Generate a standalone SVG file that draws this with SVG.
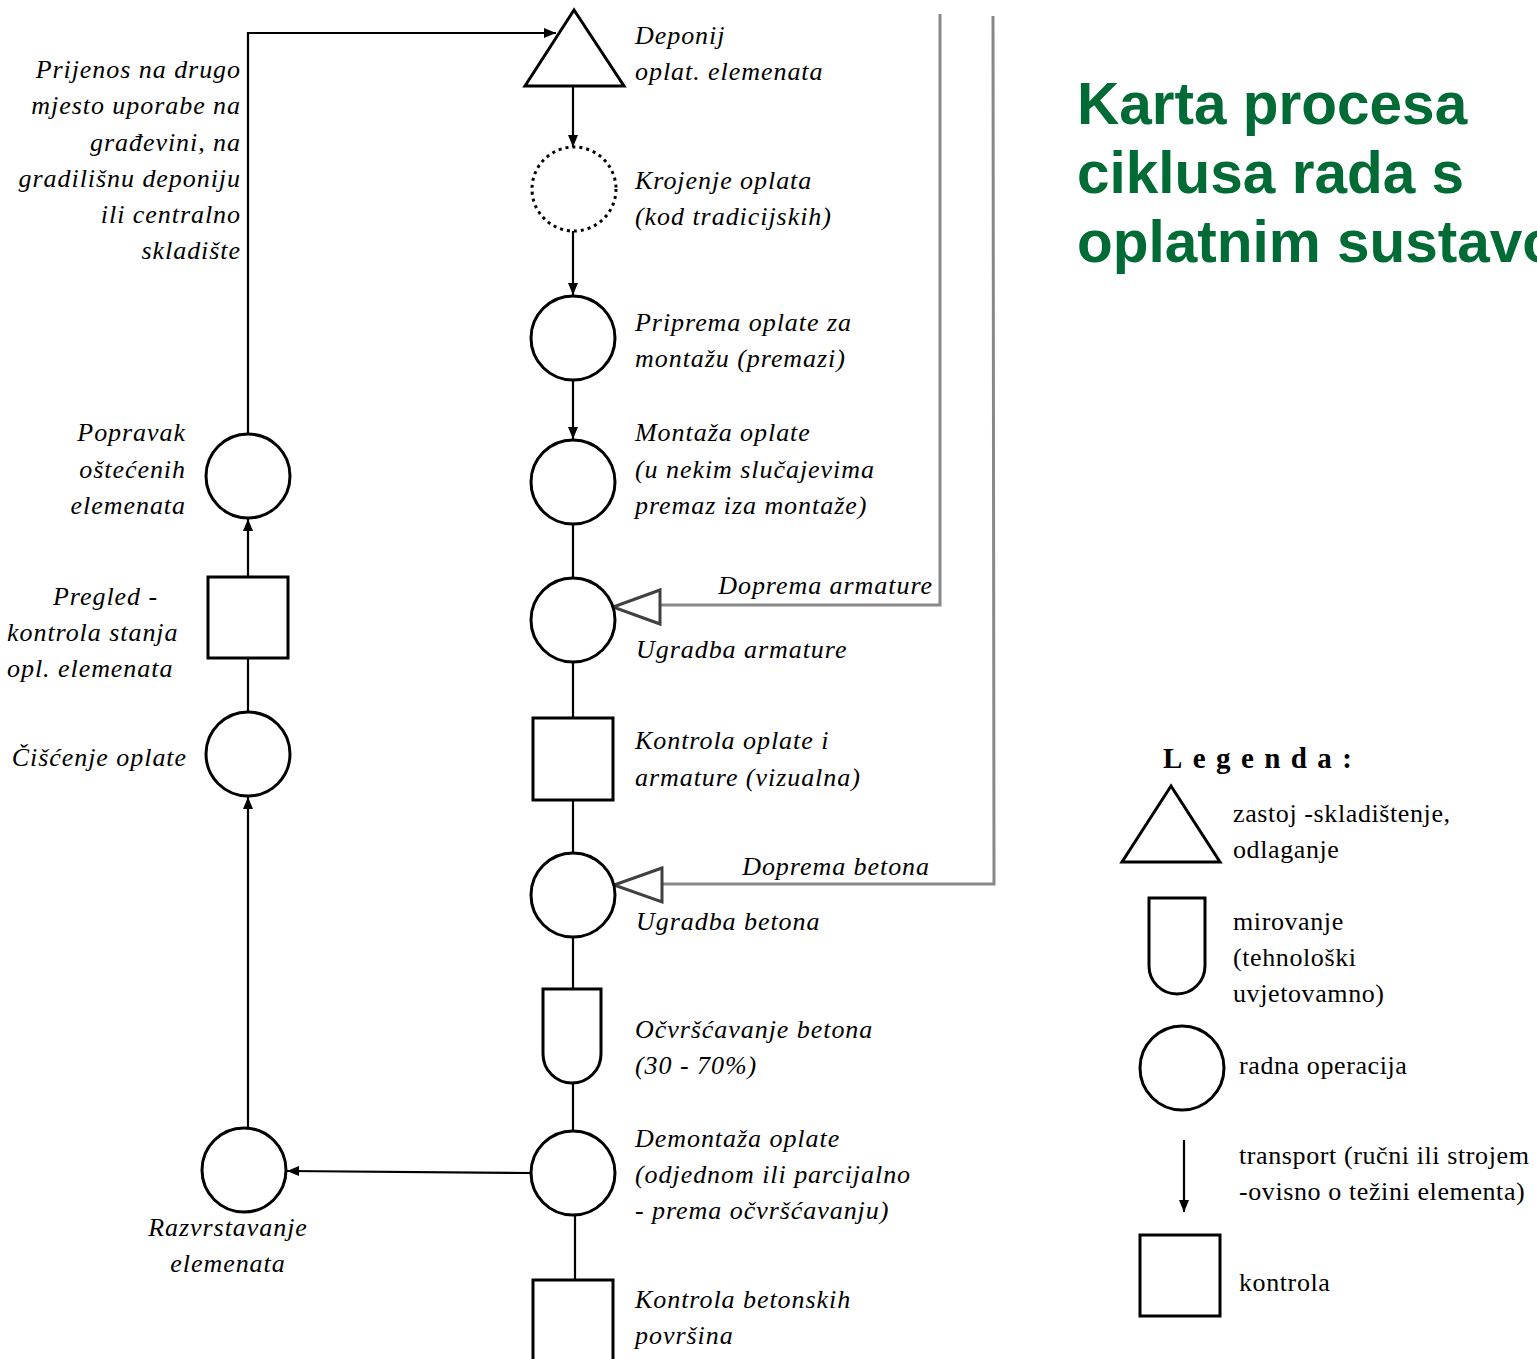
<svg xmlns="http://www.w3.org/2000/svg" width="1537" height="1359" viewBox="0 0 1537 1359">
<style>
.sh{fill:#fff;stroke:#000;stroke-width:3}
.ln{fill:none;stroke:#000;stroke-width:2.2}
.gr{fill:none;stroke:#888;stroke-width:3}
.ha{fill:#fff;stroke:#404040;stroke-width:3}
.t{font-family:"Liberation Serif",serif;font-style:italic;font-size:26px;letter-spacing:0.95px;fill:#000}
.tr{text-anchor:end}
.tm{text-anchor:middle}
.lg{font-family:"Liberation Serif",serif;font-size:26px;letter-spacing:0.6px;fill:#000}
.title{font-family:"Liberation Sans",Arial,sans-serif;font-weight:bold;font-size:58.5px;fill:#006B35}
</style>
<defs>
<marker id="ar" markerUnits="userSpaceOnUse" markerWidth="12" markerHeight="12" viewBox="0 0 12 12" refX="12" refY="6" orient="auto">
<path d="M0,1 L12,6 L0,11 z" fill="#000"/>
</marker>
</defs>
<rect width="1537" height="1359" fill="#fff"/>

<g id="title">
<text class="title" x="1077" y="124">Karta procesa</text>
<text class="title" x="1077" y="193">ciklusa rada s</text>
<text class="title" x="1077" y="262">oplatnim sustavom</text>
</g>

<g id="connectors">
<polyline class="ln" points="248,434 248,33 556,33" marker-end="url(#ar)"/>
<line class="ln" x1="573" y1="86" x2="573" y2="147" marker-end="url(#ar)"/>
<line class="ln" x1="573" y1="231" x2="573" y2="295" marker-end="url(#ar)"/>
<line class="ln" x1="573" y1="380" x2="573" y2="439" marker-end="url(#ar)"/>
<line class="ln" x1="573" y1="524" x2="573" y2="578"/>
<line class="ln" x1="573" y1="662" x2="573" y2="718"/>
<line class="ln" x1="573" y1="800" x2="573" y2="853"/>
<line class="ln" x1="573" y1="937" x2="573" y2="989"/>
<line class="ln" x1="573" y1="1083" x2="573" y2="1131"/>
<line class="ln" x1="575" y1="1215" x2="575" y2="1280"/>
<line class="ln" x1="531" y1="1173" x2="287" y2="1171" marker-end="url(#ar)"/>
<line class="ln" x1="248" y1="1129" x2="248" y2="797" marker-end="url(#ar)"/>
<line class="ln" x1="248" y1="712" x2="248" y2="658"/>
<line class="ln" x1="248" y1="577" x2="248" y2="519" marker-end="url(#ar)"/>
<polyline class="gr" points="940,14 940,605 656,605"/>
<polyline class="gr" points="993,16 994,884 660,884"/>
<polygon class="ha" points="660,590 613,607 660,624"/>
<polygon class="ha" points="662,868 614,885 662,902"/>
</g>

<g id="n-deponij">
<polygon class="sh" points="574,10 525,86 624,86"/>
<text class="t" x="635" y="44">Deponij</text>
<text class="t" x="635" y="80">oplat. elemenata</text>
</g>
<g id="n-krojenje">
<circle cx="574" cy="189" r="42" fill="#fff" stroke="#000" stroke-width="3" stroke-dasharray="3,4"/>
<text class="t" x="635" y="189">Krojenje oplata</text>
<text class="t" x="635" y="225">(kod tradicijskih)</text>
</g>
<g id="n-priprema">
<circle class="sh" cx="573" cy="338" r="42"/>
<text class="t" x="635" y="331">Priprema oplate za</text>
<text class="t" x="635" y="367">montažu (premazi)</text>
</g>
<g id="n-montaza">
<circle class="sh" cx="573" cy="482" r="42"/>
<text class="t" x="635" y="441">Montaža oplate</text>
<text class="t" x="635" y="478">(u nekim slučajevima</text>
<text class="t" x="635" y="514">premaz iza montaže)</text>
</g>
<g id="n-armatura">
<circle class="sh" cx="573" cy="620" r="42"/>
<text class="t tr" x="933" y="594">Doprema armature</text>
<text class="t" x="636" y="658">Ugradba armature</text>
</g>
<g id="n-kontrola1">
<rect class="sh" x="533" y="718" width="80" height="82"/>
<text class="t" x="635" y="749">Kontrola oplate i</text>
<text class="t" x="635" y="786">armature (vizualna)</text>
</g>
<g id="n-beton">
<circle class="sh" cx="573" cy="895" r="42"/>
<text class="t tr" x="930" y="875">Doprema betona</text>
<text class="t" x="636" y="930">Ugradba betona</text>
</g>
<g id="n-ocvrscavanje">
<path class="sh" d="M543,989 H601 V1054 A29,29 0 0 1 543,1054 Z"/>
<text class="t" x="635" y="1038">Očvršćavanje betona</text>
<text class="t" x="635" y="1074">(30 - 70%)</text>
</g>
<g id="n-demontaza">
<circle class="sh" cx="573" cy="1173" r="42"/>
<text class="t" x="635" y="1147">Demontaža oplate</text>
<text class="t" x="635" y="1183">(odjednom ili parcijalno</text>
<text class="t" x="635" y="1219">- prema očvršćavanju)</text>
</g>
<g id="n-kontrola2">
<rect class="sh" x="533" y="1280" width="80" height="90"/>
<text class="t" x="635" y="1308">Kontrola betonskih</text>
<text class="t" x="635" y="1344">površina</text>
</g>
<g id="n-razvrstavanje">
<circle class="sh" cx="244" cy="1170" r="42"/>
<text class="t tm" x="228" y="1236">Razvrstavanje</text>
<text class="t tm" x="228" y="1272">elemenata</text>
</g>
<g id="n-ciscenje">
<circle class="sh" cx="248" cy="754" r="42"/>
<text class="t tr" x="187" y="766">Čišćenje oplate</text>
</g>
<g id="n-pregled">
<rect class="sh" x="208" y="577" width="80" height="81"/>
<text class="t" x="53" y="605">Pregled -</text>
<text class="t" x="7" y="641">kontrola stanja</text>
<text class="t" x="7" y="677">opl. elemenata</text>
</g>
<g id="n-popravak">
<circle class="sh" cx="248" cy="476" r="42"/>
<text class="t tr" x="186" y="441">Popravak</text>
<text class="t tr" x="186" y="478">oštećenih</text>
<text class="t tr" x="186" y="514">elemenata</text>
</g>
<g id="n-prijenos">
<text class="t tr" x="241" y="78">Prijenos na drugo</text>
<text class="t tr" x="241" y="114">mjesto uporabe na</text>
<text class="t tr" x="241" y="151">građevini, na</text>
<text class="t tr" x="241" y="187">gradilišnu deponiju</text>
<text class="t tr" x="241" y="223">ili centralno</text>
<text class="t tr" x="241" y="259">skladište</text>
</g>

<g id="legend">
<text x="1163" y="768" font-family="Liberation Serif,serif" font-weight="bold" font-size="29" letter-spacing="10.4">Legenda:</text>
<polygon class="sh" points="1171,786 1122,862 1220,862"/>
<text class="lg" x="1233" y="822">zastoj -skladištenje,</text>
<text class="lg" x="1233" y="858">odlaganje</text>
<path class="sh" d="M1149,898 H1205 V966 A28,28 0 0 1 1149,966 Z"/>
<text class="lg" x="1233" y="930">mirovanje</text>
<text class="lg" x="1233" y="966">(tehnološki</text>
<text class="lg" x="1233" y="1002">uvjetovamno)</text>
<circle class="sh" cx="1182" cy="1068" r="42"/>
<text class="lg" x="1239" y="1074">radna operacija</text>
<line class="ln" x1="1184" y1="1140" x2="1184" y2="1212" marker-end="url(#ar)"/>
<text class="lg" x="1239" y="1164">transport (ručni ili strojem</text>
<text class="lg" x="1239" y="1200">-ovisno o težini elementa)</text>
<rect class="sh" x="1140" y="1235" width="80" height="81"/>
<text class="lg" x="1239" y="1291">kontrola</text>
</g>
</svg>
